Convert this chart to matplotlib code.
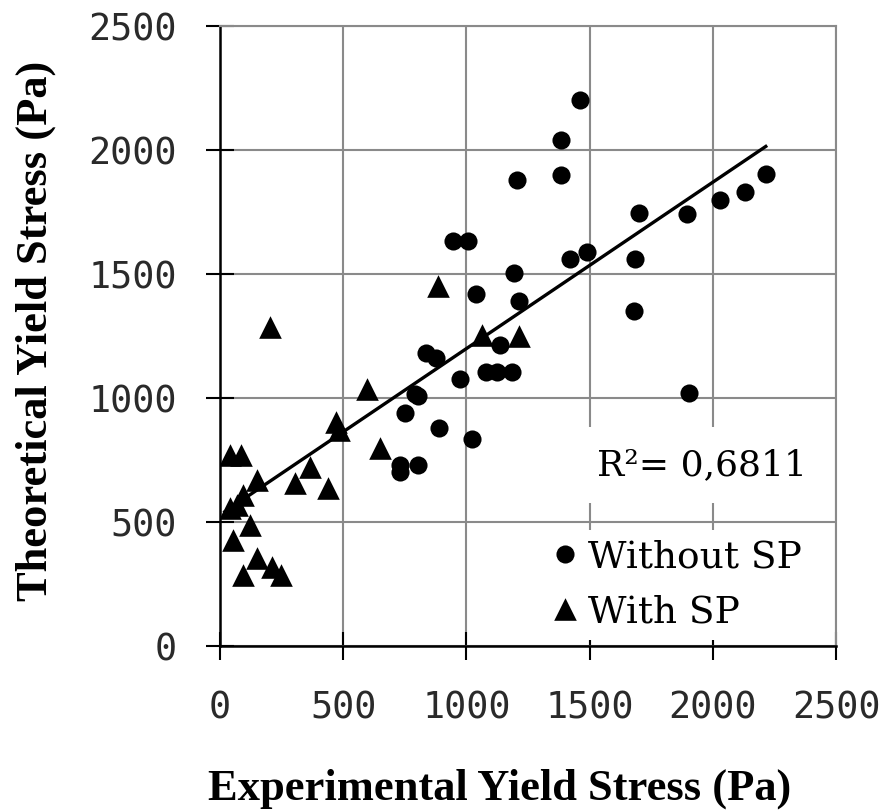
import matplotlib.pyplot as plt
import numpy as np

# Mezclas sin superplastificante
exp_sin_sp = [1460, 1385, 1385, 1205, 945, 1005, 1420, 1490, 1700, 1895,
              2030, 2130, 2215, 1685, 1680, 1905, 1195, 1040, 1215, 1135,
              1080, 1125, 1185, 975, 835, 875, 790, 805, 750, 890,
              1025, 730, 730, 805]
teo_sin_sp = [2200, 2040, 1900, 1880, 1635, 1635, 1560, 1590, 1745, 1740,
              1800, 1830, 1905, 1560, 1350, 1020, 1505, 1420, 1390, 1215,
              1105, 1105, 1105, 1075, 1180, 1160, 1015, 1010, 940, 880,
              835, 730, 700, 730]

# Mezclas con superplastificante
exp_con_sp = [885, 205, 1065, 1215, 595, 470, 485, 650, 41, 84,
              149, 95, 68, 41, 122, 52, 149, 95, 210, 250,
              304, 365, 440]
teo_con_sp = [1450, 1285, 1255, 1250, 1035, 905, 870, 800, 770, 770,
              669, 609, 568, 555, 488, 427, 354, 286, 320, 286,
              656, 723, 636]

# Recta de ajuste
pendiente = 0.671
ordenada = 528
x_ajuste = [20, 2215]
r2 = "0,6811"

ticks = [0, 500, 1000, 1500, 2000, 2500]
gris = "#8a8a8a"

fig = plt.figure(figsize=(8.83, 8.11), dpi=100)
ax = fig.add_axes([0.249, 0.2034, 0.6978, 0.7646])

sin = ax.scatter(exp_sin_sp, teo_sin_sp, marker="o", s=170, color="black",
                 linewidths=0, zorder=3)
con = ax.scatter(exp_con_sp, teo_con_sp, marker="^", s=265, color="black",
                 linewidths=0, zorder=3)

xa = np.array(x_ajuste)
ax.plot(xa, pendiente * xa + ordenada, color="black", lw=2.4, zorder=4)

ax.set_xlim(0, 2500)
ax.set_ylim(0, 2500)
ax.set_xticks(ticks)
ax.set_yticks(ticks)
ax.grid(color=gris, lw=1.5, zorder=0)
ax.set_axisbelow(True)

for lado in ["top", "right"]:
    ax.spines[lado].set_color(gris)
    ax.spines[lado].set_linewidth(1.5)
for lado in ["left", "bottom"]:
    ax.spines[lado].set_color("black")
    ax.spines[lado].set_linewidth(1.8)

ax.tick_params(direction="inout", length=20, width=1.5, color="black",
               labelsize=26.5, pad=21)
for lbl in ax.get_xticklabels() + ax.get_yticklabels():
    lbl.set_family("DejaVu Sans Mono")
    lbl.set_color("#2a2a2a")

# Títulos de los ejes
fuente_eje = dict(family="Liberation Serif", fontweight="bold", fontsize=32)
fig.text(500 / 883, 1 - 800 / 811, "Experimental Yield Stress (Pa)",
         ha="center", va="baseline", **fuente_eje)
fig.text(36 / 883, 1 - 331 / 811, "Theoretical Yield Stress (Pa)",
         rotation=90, ha="center", va="center", **fuente_eje)

fig.text(807 / 883, 1 - 475 / 811, "R²= " + r2, ha="right", va="baseline",
         family="DejaVu Serif", fontsize=26,
         bbox=dict(facecolor="white", edgecolor="none", pad=15), zorder=5)

leg = ax.legend([sin, con], ["Without SP", "With SP"], loc="upper left",
                bbox_to_anchor=(539 / 883, 1 - 530 / 811),
                bbox_transform=fig.transFigure, frameon=True, fancybox=False,
                edgecolor="none", framealpha=1, handlelength=0.9,
                handletextpad=0.15, borderpad=0.25, labelspacing=0.5,
                borderaxespad=0, scatteryoffsets=[0.5],
                prop=dict(family="DejaVu Serif", size=27))
leg.set_zorder(5)

fig.savefig("out.png", dpi=100)
